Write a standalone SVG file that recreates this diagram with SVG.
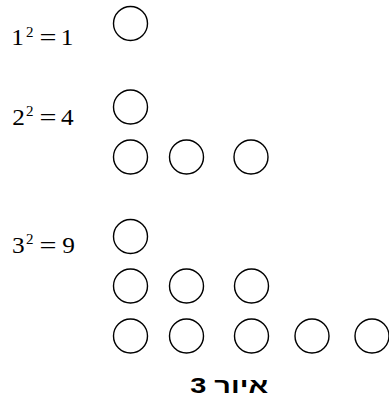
<svg xmlns="http://www.w3.org/2000/svg" width="389" height="401" viewBox="0 0 389 401">
<style>
.c{fill:none;stroke:#000;stroke-width:1.4}
.t{font-family:"Liberation Serif","Times New Roman",serif;font-size:23px;fill:#000}
.s{font-size:15px}
.cap{font-family:"Liberation Sans","Arial",sans-serif;font-size:22px;font-weight:bold;fill:#000}
</style>
<rect width="389" height="401" fill="#fff"/>
<g id="label1">
<text class="t" transform="translate(11.3,45.3) scale(1.1,1)">1</text>
<text class="t s" x="26" y="36.8">2</text>
<text class="t" x="39.5" y="45.3" textLength="17" lengthAdjust="spacingAndGlyphs">=</text>
<text class="t" transform="translate(60.8,45.3) scale(1.1,1)">1</text>
</g>
<g id="label2">
<text class="t" transform="translate(12.2,125) scale(1.1,1)">2</text>
<text class="t s" x="26" y="116">2</text>
<text class="t" x="39.5" y="125" textLength="17" lengthAdjust="spacingAndGlyphs">=</text>
<text class="t" transform="translate(61,125) scale(1.1,1)">4</text>
</g>
<g id="label3">
<text class="t" transform="translate(12,252.7) scale(1.1,1)">3</text>
<text class="t s" x="26" y="244">2</text>
<text class="t" x="39.5" y="252.7" textLength="17" lengthAdjust="spacingAndGlyphs">=</text>
<text class="t" transform="translate(62.3,252.7) scale(1.1,1)">9</text>
</g>
<g id="row1"><circle class="c" cx="130.5" cy="23.5" r="17"/></g>
<g id="row2">
<circle class="c" cx="130.5" cy="107" r="17"/>
<circle class="c" cx="130.5" cy="157" r="17"/>
<circle class="c" cx="186.5" cy="157" r="17"/>
<circle class="c" cx="251" cy="157" r="17"/>
</g>
<g id="row3">
<circle class="c" cx="130.5" cy="236.5" r="17"/>
<circle class="c" cx="130.5" cy="286" r="17"/>
<circle class="c" cx="186.5" cy="286" r="17"/>
<circle class="c" cx="251.5" cy="286" r="17"/>
<circle class="c" cx="130.5" cy="336" r="17"/>
<circle class="c" cx="186.5" cy="336" r="17"/>
<circle class="c" cx="251.5" cy="336" r="17"/>
<circle class="c" cx="312" cy="336" r="17"/>
<circle class="c" cx="372" cy="336" r="17"/>
</g>
<g id="caption"><text class="cap" x="229.2" y="393.3" text-anchor="middle" direction="rtl" textLength="78" lengthAdjust="spacingAndGlyphs">איור 3</text></g>
</svg>
